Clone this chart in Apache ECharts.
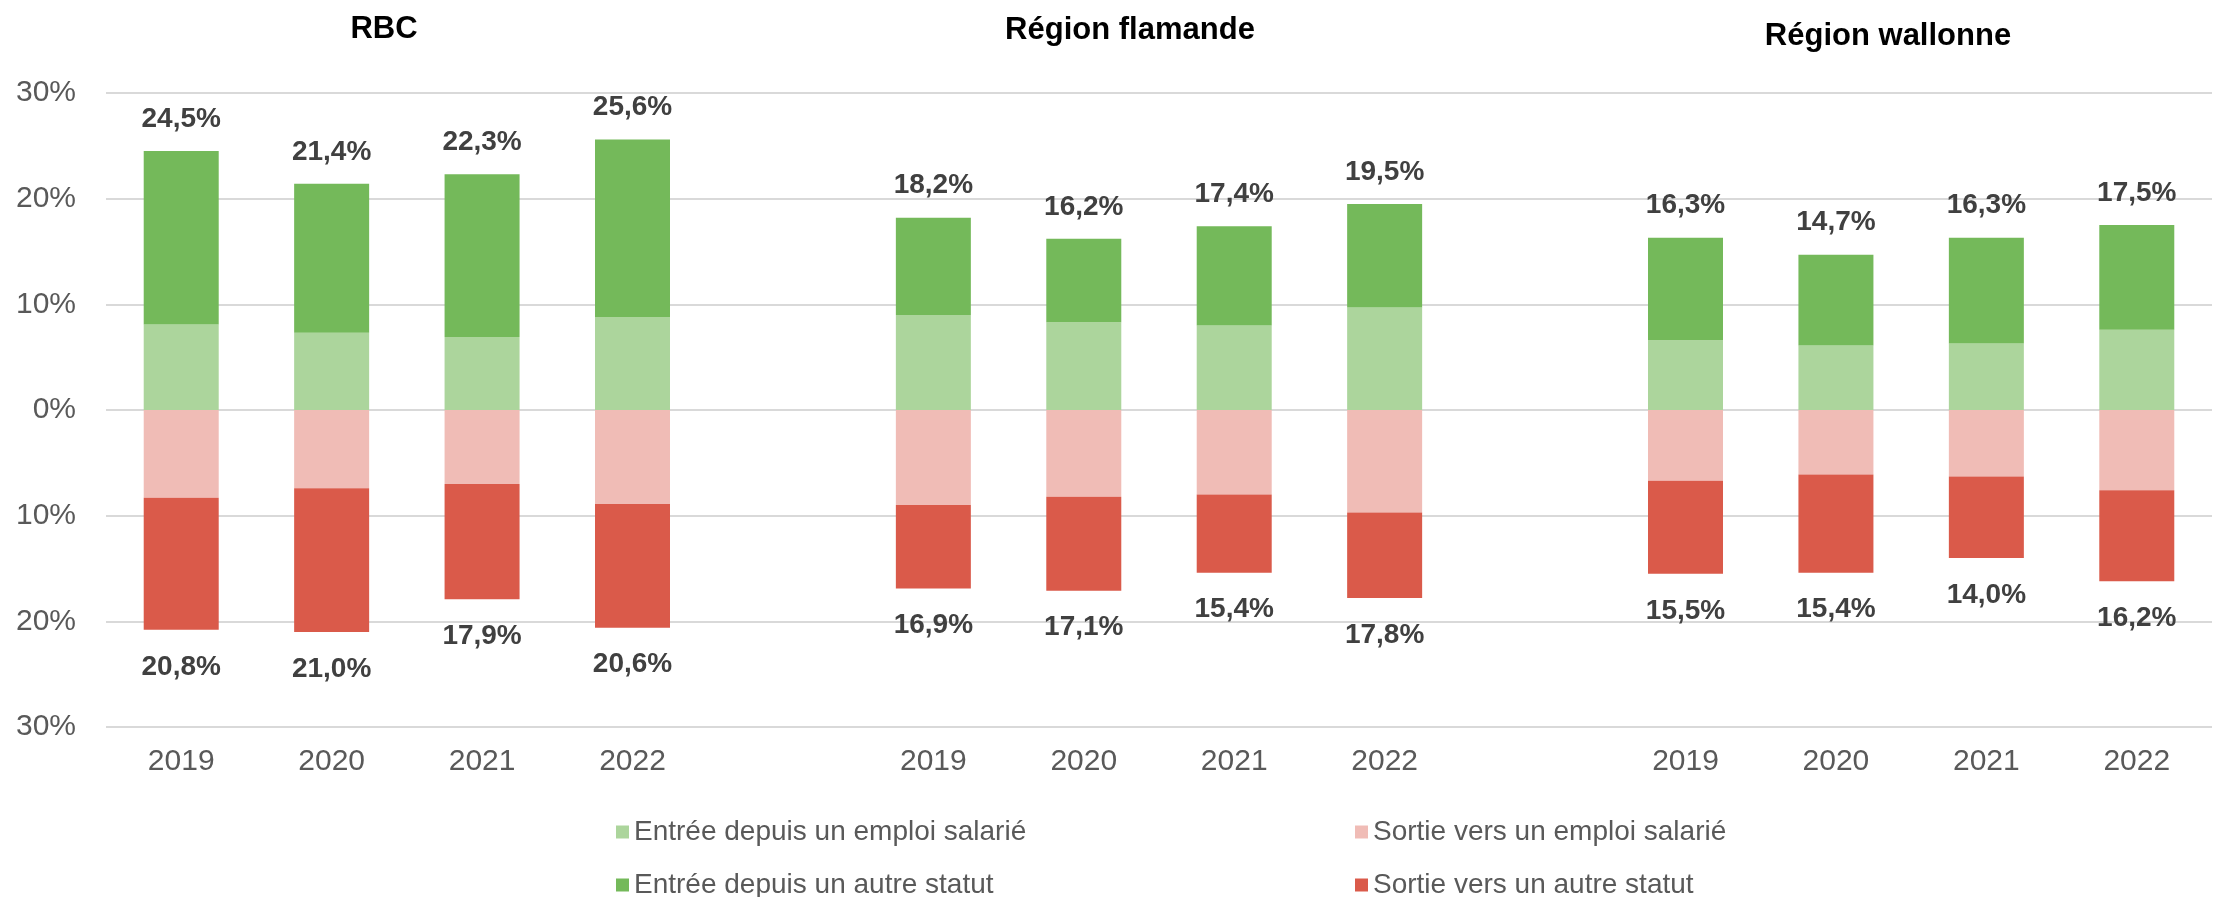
<!DOCTYPE html>
<html><head><meta charset="utf-8">
<script src="https://cdn.jsdelivr.net/npm/echarts@6/dist/echarts.min.js"></script>
<style>html,body{margin:0;padding:0;background:#fff}#c{width:2218px;height:897px}</style>
</head><body><div id="c"></div>
<script>
const regions = ['RBC', 'Région flamande', 'Région wallonne'];
const years = ['2019', '2020', '2021', '2022'];
// values per region (RBC, flamande, wallonne) x year
const entreeEmploi = [8.1, 7.3, 6.9, 8.8, 9.0, 8.3, 8.0, 9.7, 6.6, 6.1, 6.3, 7.6];
const entreeAutre  = [16.4, 14.1, 15.4, 16.8, 9.2, 7.9, 9.4, 9.8, 9.7, 8.6, 10.0, 9.9];
const sortieEmploi = [8.3, 7.4, 7.0, 8.9, 9.0, 8.2, 8.0, 9.7, 6.7, 6.1, 6.3, 7.6];
const sortieAutre  = [12.5, 13.6, 10.9, 11.7, 7.9, 8.9, 7.4, 8.1, 8.8, 9.3, 7.7, 8.6];
const entreeTotal  = [24.5, 21.4, 22.3, 25.6, 18.2, 16.2, 17.4, 19.5, 16.3, 14.7, 16.3, 17.5];
const sortieTotal  = [20.8, 21.0, 17.9, 20.6, 16.9, 17.1, 15.4, 17.8, 15.5, 15.4, 14.0, 16.2];
const seriesNames = ['Entrée depuis un emploi salarié', 'Entrée depuis un autre statut',
                     'Sortie vers un emploi salarié', 'Sortie vers un autre statut'];
const colors = ['#ACD59C', '#74B95A', '#F0BCB6', '#DA5A4A'];

// build category axis with a blank slot between regions
const categories = [];
const slotToIdx = [];
regions.forEach((r, ri) => {
  years.forEach((y, yi) => { categories.push(y); slotToIdx.push(ri * years.length + yi); });
  if (ri < regions.length - 1) { categories.push(''); slotToIdx.push(-1); }
});
function col(arr, sign) {
  return slotToIdx.map(i => i < 0 ? null : sign * arr[i]);
}
function fmt(v) { return v.toFixed(1).replace('.', ',') + '%'; }

const FONT = 'Liberation Sans, Arial, sans-serif';
const labelBase = { show: true, fontSize: 28, fontWeight: 'bold', color: '#404040', fontFamily: FONT };

const chart = echarts.init(document.getElementById('c'), null, { renderer: 'canvas' });
chart.setOption({
  animation: false,
  backgroundColor: '#fff',
  textStyle: { fontFamily: FONT },
  title: [
    { text: regions[0], left: 379, top: 9, textAlign: 'center' },
    { text: regions[1], left: 1125, top: 10, textAlign: 'center' },
    { text: regions[2], left: 1883, top: 16, textAlign: 'center' }
  ].map(t => Object.assign(t, { textStyle: { fontSize: 31, fontWeight: 'bold', color: '#000', fontFamily: FONT } })),
  grid: { left: 106, right: 6, top: 93, bottom: 170, containLabel: false },
  legend: [
    { name: seriesNames[0], left: 616, top: 818 },
    { name: seriesNames[1], left: 616, top: 871 },
    { name: seriesNames[2], left: 1355, top: 818 },
    { name: seriesNames[3], left: 1355, top: 871 }
  ].map(l => ({ data: [l.name], left: l.left, top: l.top, padding: 0, icon: 'rect',
      itemWidth: 13, itemHeight: 13, itemGap: 0,
      textStyle: { fontSize: 28, color: '#595959', lineHeight: 28, fontFamily: FONT } })),
  xAxis: {
    type: 'category', data: categories,
    axisLine: { show: false, onZero: false }, axisTick: { show: false },
    axisLabel: { fontSize: 30, color: '#595959', margin: 20, interval: 0 }
  },
  yAxis: {
    type: 'value', min: -30, max: 30, interval: 10,
    axisLine: { show: false }, axisTick: { show: false },
    axisLabel: { fontSize: 30, color: '#595959', margin: 30, formatter: v => Math.abs(v) + '%' },
    splitLine: { lineStyle: { color: '#D9D9D9', width: 2 } }
  },
  series: [
    { name: seriesNames[0], type: 'bar', stack: 's', data: col(entreeEmploi, 1), barWidth: 75,
      itemStyle: { color: colors[0] } },
    { name: seriesNames[1], type: 'bar', stack: 's', data: col(entreeAutre, 1), barWidth: 75,
      itemStyle: { color: colors[1] },
      label: Object.assign({}, labelBase, { position: 'top', distance: 18,
        formatter: p => fmt(entreeTotal[slotToIdx[p.dataIndex]]) }) },
    { name: seriesNames[2], type: 'bar', stack: 's', data: col(sortieEmploi, -1), barWidth: 75,
      itemStyle: { color: colors[2] } },
    { name: seriesNames[3], type: 'bar', stack: 's', data: col(sortieAutre, -1), barWidth: 75,
      itemStyle: { color: colors[3] },
      label: Object.assign({}, labelBase, { position: 'bottom', distance: 23,
        formatter: p => fmt(sortieTotal[slotToIdx[p.dataIndex]]) }) }
  ]
});
</script></body></html>
